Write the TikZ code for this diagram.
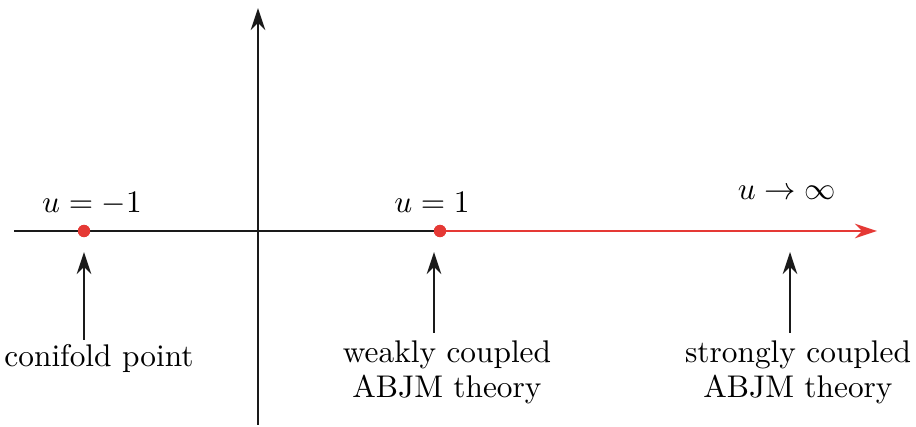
\documentclass[tikz,border=0pt]{standalone}
\usepackage{amsmath,amssymb}
\usetikzlibrary{arrows.meta,positioning}
\definecolor{ink}{HTML}{1A1A1A}
\definecolor{phasered}{HTML}{E53935}
\tikzset{
  axisline/.style={draw=ink, line width=0.8pt},
  axisarrow/.style={axisline, -{Stealth[length=7pt, width=4.6pt]}},
  flowarrow/.style={draw=phasered, line width=0.8pt, -{Stealth[length=7pt, width=4.6pt]}},
  pointer/.style={axisline, -{Stealth[length=7pt, width=4.6pt]}},
  reddot/.style={circle, fill=phasered, inner sep=0pt, minimum size=3.9pt},
  ptlabel/.style={font=\normalsize, inner sep=0pt, anchor=base},
  notetext/.style={font=\fontsize{10}{11.2}\selectfont, align=center, inner sep=0pt, anchor=north}
}
\begin{document}
\begin{tikzpicture}[x=0.319pt, y=-0.319pt]
  \useasboundingbox (0,0) rectangle (916,427);
  % axes
  \coordinate (xleft) at (14,231);
  \coordinate (xright) at (877,231);
  \coordinate (ybot) at (258,425);
  \coordinate (ytop) at (258,8);
  \node[reddot] (conif) at (84,231) {};
  \node[reddot] (weak) at (440,231) {};
  \draw[axisarrow] (ybot) -- (ytop);
  \draw[axisline] (xleft) -- (weak.center);
  \draw[flowarrow] (weak.center) -- (xright);
  \node[reddot] at (conif) {};
  \node[reddot] at (weak) {};
  % point labels
  \node[ptlabel] (lconif) at (92,213) {$u=-1$};
  \node[ptlabel] (lweak) at (432,213) {$u=1$};
  \node[ptlabel] (lstrong) at (787,200) {$u\to\infty$};
  % notes below the axis
  \node[notetext] (nconif) at (99,344) {conifold point};
  \node[notetext] (nweak) at (447,340) {weakly coupled\\ABJM theory};
  \node[notetext] (nstrong) at (798,340) {strongly coupled\\ABJM theory};
  \coordinate (aconif) at (84,340);
  \coordinate (aweak) at (434,333);
  \coordinate (astrong) at (790,333);
  \coordinate (tconif) at (84,252);
  \coordinate (tweak) at (434,252);
  \coordinate (tstrong) at (790,252);
  \draw[pointer] (aconif) -- (tconif);
  \draw[pointer] (aweak) -- (tweak);
  \draw[pointer] (astrong) -- (tstrong);
\end{tikzpicture}
\end{document}
